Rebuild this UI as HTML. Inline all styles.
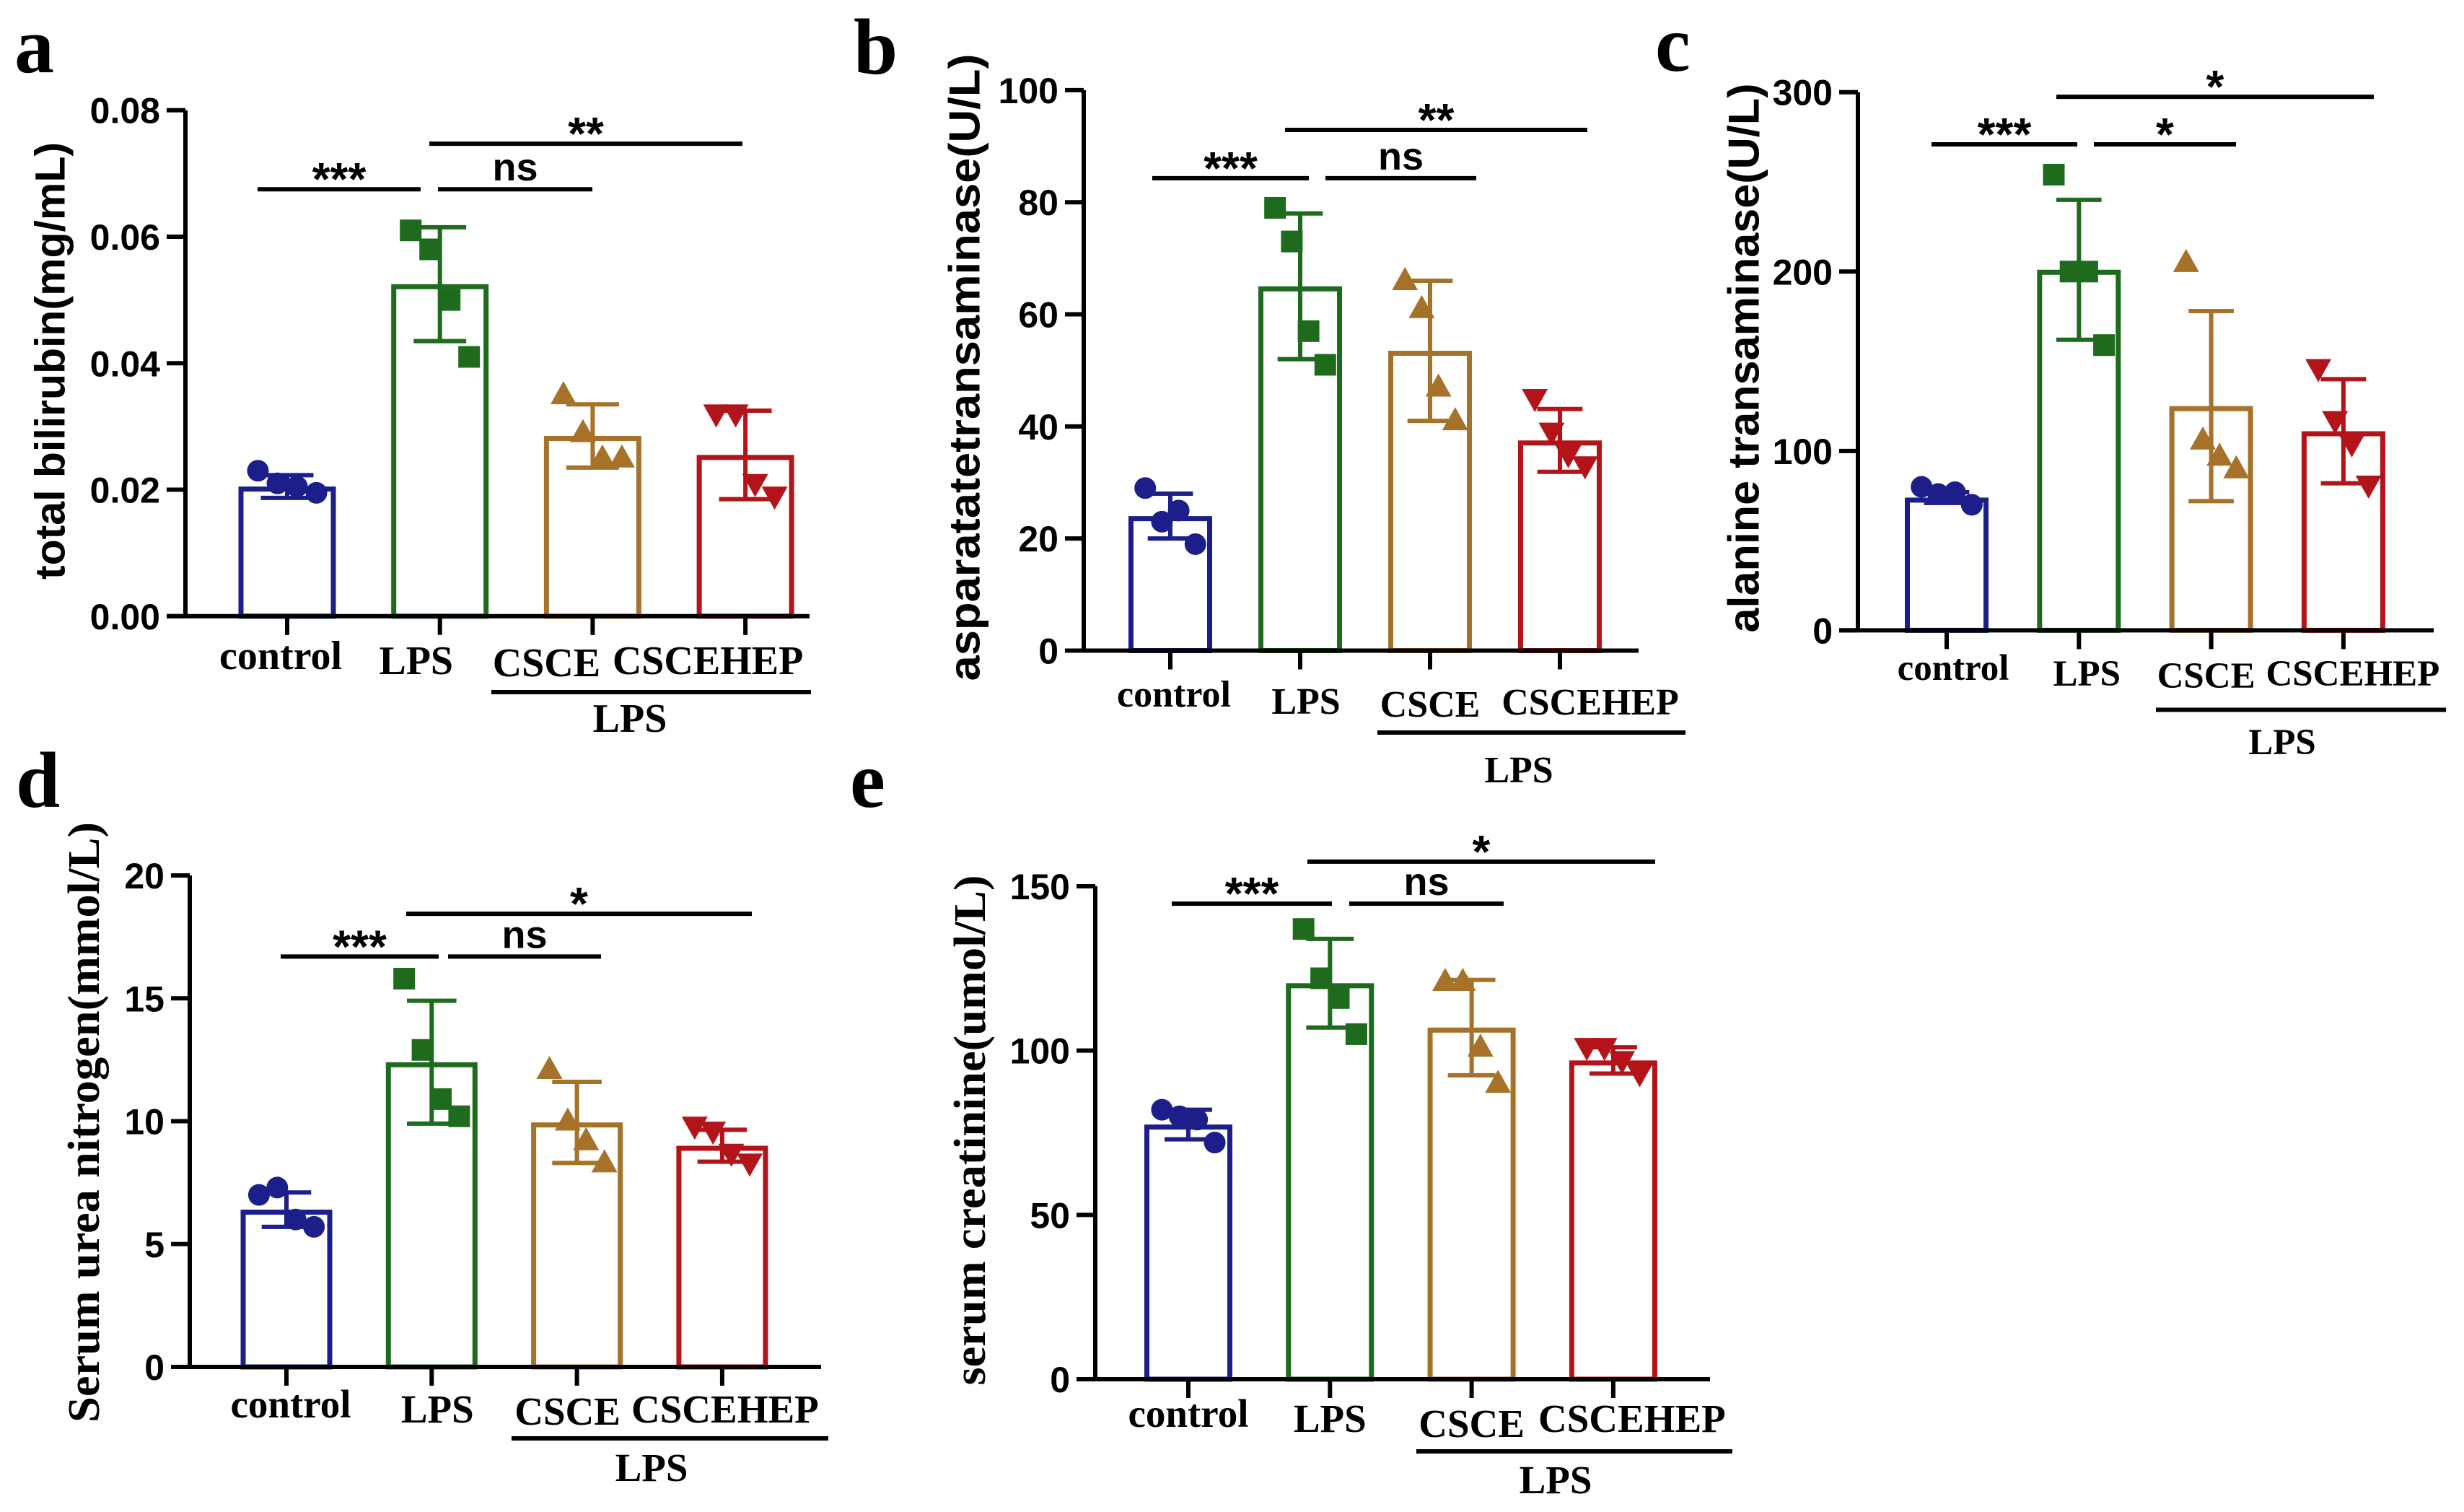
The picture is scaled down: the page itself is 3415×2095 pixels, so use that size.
<!DOCTYPE html>
<html><head><meta charset="utf-8"><style>
html,body{margin:0;padding:0;background:#fff;}
svg{display:block;}
</style></head><body>
<svg id="fig" xmlns="http://www.w3.org/2000/svg" width="3415" height="2095" viewBox="0 0 3415 2095">
<rect x="0" y="0" width="3415" height="2095" fill="#fff"/>
</svg>
<script>
const cats = ["control","LPS","CSCE","CSCEHEP"];
const colors = ["#1c1f8a","#1e6b1e","#a67229","#b3141a"];
const markers = ["circle","square","triUp","triDown"];

// Panel a: total bilirubin
const aTicks = [0,0.02,0.04,0.06,0.08];
const aTickLabels = ["0.00","0.02","0.04","0.06","0.08"];
const aMeans = [0.0205,0.0525,0.0285,0.0255];
const aSD = [0.0018,0.0090,0.0050,0.0070];
const aPts = [[0.023,0.021,0.0205,0.0195],[0.061,0.058,0.050,0.041],[0.035,0.029,0.025,0.025],[0.032,0.032,0.021,0.019]];
const aSigY = [0.0675,0.0675,0.0747];
const aSigLabels = ["***","ns","**"];

// Panel b: AST
const bTicks = [0,20,40,60,80,100];
const bTickLabels = ["0","20","40","60","80","100"];
const bMeans = [24,65,53.5,37.5];
const bSD = [4,13,12.5,5.6];
const bPts = [[29,23,25,19],[79,73,57,51],[66,61,47,41],[45,39,35,33]];
const bSigY = [84.3,84.3,92.9];
const bSigLabels = ["***","ns","**"];

// Panel c: ALT
const cTicks = [0,100,200,300];
const cTickLabels = ["0","100","200","300"];
const cMeans = [74,201,125,111];
const cSD = [3,39,53,29];
const cPts = [[80,76,77,70],[254,200,200,159],[205,106,97,90],[146,117,104,81]];
const cSigY = [270.9,270.9,297.4];
const cSigLabels = ["***","*","*"];

// Panel d: BUN
const dTicks = [0,5,10,15,20];
const dTickLabels = ["0","5","10","15","20"];
const dMeans = [6.4,12.4,9.95,9.0];
const dSD = [0.7,2.5,1.65,0.65];
const dPts = [[7.0,7.3,6.0,5.7],[15.8,12.9,10.9,10.2],[12.1,10.0,9.2,8.3],[9.8,9.6,8.7,8.3]];
const dSigY = [16.7,16.7,18.44];
const dSigLabels = ["***","ns","*"];

// Panel e: creatinine
const eTicks = [0,50,100,150];
const eTickLabels = ["0","50","100","150"];
const eMeans = [77.5,120.5,107,97];
const eSD = [4.5,13.5,14.5,4];
const ePts = [[82,80,79,72],[137,122,116,105],[121,121,101,90],[101,101,97,93]];
const eSigY = [144.7,144.7,157.5];
const eSigLabels = ["***","ns","*"];

const NS = "http://www.w3.org/2000/svg";
const svg = document.getElementById("fig");
const SANS = '"Liberation Sans", Arial, sans-serif';
const SERIF = '"Liberation Serif", "Times New Roman", serif';

function mk(tag, attrs, parent){
  const el = document.createElementNS(NS, tag);
  for (const k in attrs) el.setAttribute(k, attrs[k]);
  (parent||svg).appendChild(el);
  return el;
}
function txt(s, attrs, parent){
  const t = mk("text", attrs, parent);
  t.textContent = s;
  return t;
}

function drawPanel(L, ticks, tickLabels, means, sd, pts, sigY, sigLabels){
  const g = mk("g", {});
  
  
  const ymax = ticks[ticks.length-1];
  const yS = v => L.y0 - (v/ymax)*(L.y0 - L.yTop);
  const xC = i => L.c0 + i*L.step;

  const let_ = txt(L.id, {x:L.letterX, y:L.letterY, "font-family":SERIF, "font-weight":"bold", "font-size":110, fill:"#000"}, g);
  
  

  const yt = txt(L.title, {x:0, y:0, "font-family":L.titleFont, "font-weight":"bold", "font-size":L.titleSize, fill:"#000", "text-anchor":"middle", "dominant-baseline":"central", textLength:L.titleLen, lengthAdjust:"spacingAndGlyphs", transform:`translate(${L.titleX},${L.titleY}) rotate(-90)`}, g);
  
  

  for (let i=0;i<cats.length;i++){
    const x = xC(i), w = L.bw, top = yS(means[i]);
    const r = mk("rect", {x:x-w/2+3.5, y:top+3.5, width:w-7, height:L.y0-top-3.5, fill:"#fff", stroke:colors[i], "stroke-width":7}, g);
    
    
  }
  const jit = [-0.3,-0.1,0.1,0.3];
  for (let i=0;i<cats.length;i++){
    for (let k=0;k<pts[i].length;k++){
      const cx = xC(i) + jit[k]*L.bw, cy = yS(pts[i][k]);
      let m;
      const s = 15;
      if (markers[i]==="circle") m = mk("circle",{cx:cx,cy:cy,r:s,fill:colors[i]},g);
      else if (markers[i]==="square") m = mk("rect",{x:cx-s,y:cy-s,width:2*s,height:2*s,fill:colors[i]},g);
      else if (markers[i]==="triUp") m = mk("polygon",{points:`${cx},${cy-19} ${cx-18},${cy+13} ${cx+18},${cy+13}`,fill:colors[i]},g);
      else m = mk("polygon",{points:`${cx},${cy+19} ${cx-18},${cy-13} ${cx+18},${cy-13}`,fill:colors[i]},g);
      
      
    }
  }
  for (let i=0;i<cats.length;i++){
    const x = xC(i), hi = yS(means[i]+sd[i]), lo = yS(means[i]-sd[i]), cw = L.bw*0.27;
    const eb = mk("path", {d:`M${x},${hi}V${lo}M${x-cw},${hi}H${x+cw}M${x-cw},${lo}H${x+cw}`, stroke:colors[i], "stroke-width":6, fill:"none"}, g);
    
    
  }
  const ax = mk("path", {d:`M${L.axisX},${L.yTop}V${L.y0}M${L.axisX-26},${L.y0}H${L.axisEnd}`, stroke:"#000", "stroke-width":6, fill:"none"}, g);
  
  
  for (let t=0;t<ticks.length;t++){
    const y = yS(ticks[t]);
    const tk = mk("line",{x1:L.axisX-26,x2:L.axisX,y1:y,y2:y,stroke:"#000","stroke-width":6},g);
    
    
    const tl = txt(tickLabels[t], {x:L.axisX-35, y:y+18, "font-family":SANS, "font-weight":"bold", "font-size":50, "text-anchor":"end", fill:"#000"}, g);
    
    
  }
  for (let i=0;i<cats.length;i++){
    const x = xC(i);
    const tk = mk("line",{x1:x,x2:x,y1:L.y0,y2:L.y0+26,stroke:"#000","stroke-width":6},g);
    
    
    const xl = txt(cats[i], {x:x+L.labOff[i], y:L.labY[i], "font-family":SERIF, "font-weight":"bold", "font-size":L.labSize, "text-anchor":"middle", fill:"#000"}, g);
    
    
  }
  const br = mk("line",{x1:L.brX1,x2:L.brX2,y1:L.brY,y2:L.brY,stroke:"#000","stroke-width":6},g);
  
  
  const bl = txt("LPS", {x:L.brLabX, y:L.brLabY, "font-family":SERIF, "font-weight":"bold", "font-size":L.labSize, "text-anchor":"middle", fill:"#000"}, g);
  
  
  for (let s=0;s<sigY.length;s++){
    const y = yS(sigY[s]);
    const [x1,x2] = L.sigX[s];
    const ln = mk("line",{x1:x1,x2:x2,y1:y,y2:y,stroke:"#000","stroke-width":6},g);
    
    
    const isStar = sigLabels[s].indexOf("*")>=0;
    const st = txt(sigLabels[s], {x:(x1+x2)/2, y: isStar ? y+8 : y-12, "font-family":SANS, "font-weight":"bold", "font-size":isStar?64:54, "text-anchor":"middle", fill:"#000"}, g);
    
    
  }
}

drawPanel({id:"a", axisX:257, yTop:152.7, y0:853.8, axisEnd:1122, c0:398, step:211.7, bw:135,
  title:"total bilirubin(mg/mL)", titleFont:SANS, titleSize:58, titleX:70, titleY:500, titleLen:606,
  letterX:20, letterY:100, labSize:56, labOff:[-9,-33,-64,-52], labY:[927,934,937,934],
  brX1:681, brX2:1124, brY:959, brLabX:873, brLabY:1014,
  sigX:[[357,583],[607,821],[595,1029]]}, aTicks, aTickLabels, aMeans, aSD, aPts, aSigY, aSigLabels);

drawPanel({id:"b", axisX:1502, yTop:124.9, y0:901.5, axisEnd:2271, c0:1622, step:180, bw:116,
  title:"asparatatetransaminase(U/L)", titleFont:SANS, titleSize:60, titleX:1337, titleY:509, titleLen:869,
  letterX:1183, letterY:102, labSize:52, labOff:[5,8,0,42], labY:[979,989,993,990],
  brX1:1909, brX2:2336, brY:1015, brLabX:2105, brLabY:1084,
  sigX:[[1597,1814],[1837,2046],[1781,2200]]}, bTicks, bTickLabels, bMeans, bSD, bPts, bSigY, bSigLabels);

drawPanel({id:"c", axisX:2575, yTop:127.7, y0:873.4, axisEnd:3373, c0:2698, step:183.3, bw:116,
  title:"alanine transaminase(U/L)", titleFont:SANS, titleSize:60, titleX:2417, titleY:496, titleLen:761,
  letterX:2294, letterY:98, labSize:51, labOff:[9,11,-7,13], labY:[942,950,953,950],
  brX1:2988, brX2:3390, brY:983.5, brLabX:3163, brLabY:1045,
  sigX:[[2677,2879],[2902,3099],[2850,3290]]}, cTicks, cTickLabels, cMeans, cSD, cPts, cSigY, cSigLabels);

drawPanel({id:"d", axisX:263, yTop:1213, y0:1894, axisEnd:1138, c0:397, step:201.3, bw:127,
  title:"Serum urea nitrogen(mmol/L)", titleFont:SERIF, titleSize:62, titleX:117, titleY:1555, titleLen:832,
  letterX:22, letterY:1118, labSize:55, labOff:[6,8,-13,4], labY:[1964,1971,1974,1971],
  brX1:709, brX2:1148, brY:1993, brLabX:903, brLabY:2052,
  sigX:[[389,608],[621,833],[563,1042]]}, dTicks, dTickLabels, dMeans, dSD, dPts, dSigY, dSigLabels);

drawPanel({id:"e", axisX:1518, yTop:1228, y0:1911, axisEnd:2370, c0:1647, step:196.3, bw:122,
  title:"serum creatinine(umol/L)", titleFont:SERIF, titleSize:62, titleX:1345, titleY:1566, titleLen:707,
  letterX:1178, letterY:1118, labSize:55, labOff:[0,0,0,26], labY:[1977,1984,1991,1984],
  brX1:1963, brX2:2401, brY:2011, brLabX:2156, brLabY:2069,
  sigX:[[1624,1846],[1870,2084],[1812,2294]]}, eTicks, eTickLabels, eMeans, eSD, ePts, eSigY, eSigLabels);
</script>
</body></html>
